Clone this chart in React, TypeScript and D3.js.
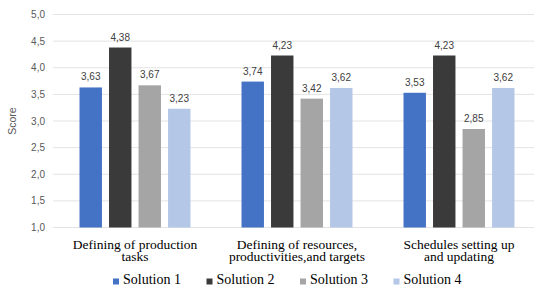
import * as d3 from 'd3';
import { useRef, useEffect } from "react"

// chart data
const categories = [
    ["Defining of production", "tasks"],
    ["Defining of resources,", "productivities,and targets"],
    ["Schedules setting up", "and updating"],
]
const seriesNames = ["Solution 1", "Solution 2", "Solution 3", "Solution 4"]
const solution1 = [3.63, 3.74, 3.53]
const solution2 = [4.38, 4.23, 4.23]
const solution3 = [3.67, 3.42, 2.85]
const solution4 = [3.23, 3.62, 3.62]
const yTicks = [1.0, 1.5, 2.0, 2.5, 3.0, 3.5, 4.0, 4.5, 5.0]
const colors = ["#4472C4", "#3A3A3A", "#A5A5A5", "#B4C7E7"]

function App() {
    const ref = useRef<SVGSVGElement | null>(null)

    useEffect(() => {
        renderChart();
    }, [])

    function renderChart() {
        const svg = d3.select(ref.current!)
        svg.selectAll("*").remove()

        const seriesValues = [solution1, solution2, solution3, solution4]
        const sans = "'Liberation Sans', Arial, sans-serif"
        const serif = "'Liberation Serif', 'Times New Roman', serif"
        const comma = (v: number) => d3.format(".1f")(v).replace(".", ",")
        const comma2 = (v: number) => d3.format(".2f")(v).replace(".", ",")

        const left = 54, right = 540, top = 14.5, bottom = 227.5

        const y = d3.scaleLinear().domain([1, 5]).range([bottom, top])
        const x0 = d3.scaleBand<number>()
            .domain(d3.range(categories.length))
            .range([left, right])
            .paddingInner(0.315)
            .paddingOuter(0.1575)
        const x1 = d3.scaleBand<number>()
            .domain(d3.range(seriesNames.length))
            .range([0, x0.bandwidth()])
            .paddingInner(0.24)

        // gridlines
        svg.append("g")
            .selectAll("line")
            .data(yTicks)
            .enter()
            .append("line")
            .attr("x1", left - 1)
            .attr("x2", 534)
            .attr("y1", d => y(d))
            .attr("y2", d => y(d))
            .attr("stroke", "#E3E3E3")
            .attr("stroke-width", 1)

        // y tick labels
        svg.append("g")
            .selectAll("text")
            .data(yTicks)
            .enter()
            .append("text")
            .attr("x", 45)
            .attr("y", d => y(d))
            .attr("dy", "0.35em")
            .attr("text-anchor", "end")
            .attr("font-family", sans)
            .attr("font-size", 10)
            .attr("fill", "#595959")
            .text(d => comma(d))

        // y axis title
        svg.append("text")
            .attr("transform", `translate(16,${(top + bottom) / 2}) rotate(-90)`)
            .attr("text-anchor", "middle")
            .attr("font-family", sans)
            .attr("font-size", 10.5)
            .attr("fill", "#595959")
            .text("Score")

        // bars
        const groups = svg.append("g")
            .selectAll("g")
            .data(categories.map((_, i) => i))
            .enter()
            .append("g")
            .attr("transform", d => `translate(${x0(d)},0)`)

        groups.selectAll("rect")
            .data(ci => seriesValues.map((s, si) => ({ si, v: s[ci] })))
            .enter()
            .append("rect")
            .attr("x", d => x1(d.si)!)
            .attr("y", d => y(d.v))
            .attr("width", x1.bandwidth())
            .attr("height", d => y(1) - y(d.v))
            .attr("fill", d => colors[d.si])

        groups.selectAll("text.val")
            .data(ci => seriesValues.map((s, si) => ({ si, v: s[ci] })))
            .enter()
            .append("text")
            .attr("class", "val")
            .attr("x", d => x1(d.si)! + x1.bandwidth() / 2)
            .attr("y", d => y(d.v) - 7)
            .attr("text-anchor", "middle")
            .attr("font-family", sans)
            .attr("font-size", 10)
            .attr("fill", "#404040")
            .text(d => comma2(d.v))

        // category labels, one text per line
        const cat = svg.append("g")
            .selectAll("g")
            .data(categories)
            .enter()
            .append("g")
        cat.each(function (lines, i) {
            const g = d3.select(this)
            lines.forEach((line, li) => {
                g.append("text")
                    .attr("x", x0(i)! + x0.bandwidth() / 2)
                    .attr("y", 248.5 + li * 12)
                    .attr("text-anchor", "middle")
                    .attr("font-family", serif)
                    .attr("font-size", 13.5)
                    .attr("fill", "#000")
                    .text(line)
            })
        })

        // legend
        const legend = svg.append("g")
            .selectAll("g")
            .data(seriesNames)
            .enter()
            .append("g")
            .attr("transform", (_, i) => `translate(${113 + i * 93.5},281.5)`)
        legend.append("rect")
            .attr("x", 0)
            .attr("y", -3)
            .attr("width", 6)
            .attr("height", 6)
            .attr("fill", (_, i) => colors[i])
        legend.append("text")
            .attr("x", 10)
            .attr("y", 2.5)
            .attr("font-family", serif)
            .attr("font-size", 14)
            .attr("fill", "#000")
            .text(d => d)
    }

    return (
        <svg
            width={534}
            height={285}
            ref={ref}
            style={{ position: 'absolute', left: 0, top: 0, background: '#fff' }}
        />
    )
}

export default App;
